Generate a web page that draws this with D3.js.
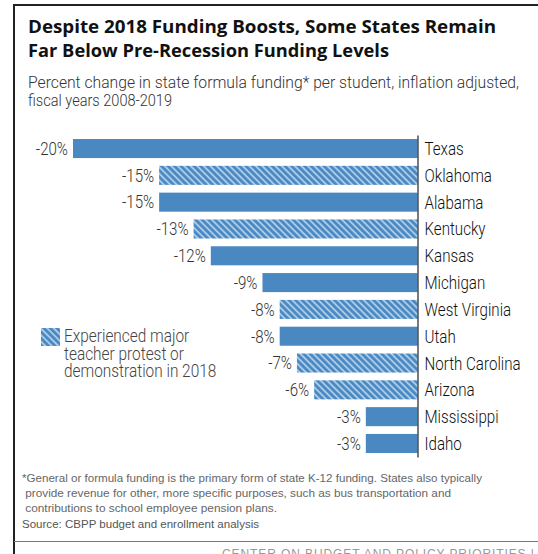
<!DOCTYPE html>
<html>
<head>
<meta charset="utf-8">
<script src="https://cdn.jsdelivr.net/npm/d3@7"></script>
<style>
  body { margin: 0; background: #fff; }
  svg { display: block; }
</style>
</head>
<body>
<svg width="538" height="554"></svg>
<script>
// data
var states = ["Texas", "Oklahoma", "Alabama", "Kentucky", "Kansas", "Michigan",
              "West Virginia", "Utah", "North Carolina", "Arizona", "Mississippi", "Idaho"];
var change = [-20, -15, -15, -13, -12, -9, -8, -8, -7, -6, -3, -3];
var protest = [false, true, false, true, false, false, true, false, true, true, false, false];

var titleLines = ["Despite 2018 Funding Boosts, Some States Remain",
                  "Far Below Pre-Recession Funding Levels"];
var subtitleLines = ["Percent change in state formula funding* per student, inflation adjusted,",
                     "fiscal years 2008-2019"];
var legendLines = ["Experienced major", "teacher protest or", "demonstration in 2018"];
var noteLines = ["*General or formula funding is the primary form of state K-12 funding. States also typically",
                 " provide revenue for other, more specific purposes, such as bus transportation and",
                 " contributions to school employee pension plans."];
var sourceText = "Source: CBPP budget and enrollment analysis";
var footerText = "CENTER ON BUDGET AND POLICY PRIORITIES | CBPP.ORG";

var data = states.map(function(s, i) {
    return {state: s, value: change[i], protest: protest[i]};
});

// no condensed font installed, so squeeze Roboto horizontally
var condFont = "Roboto, 'Liberation Sans', sans-serif";
function condense(sel, k) {
    sel.attr("lengthAdjust", "spacingAndGlyphs")
       .attr("textLength", function() { return this.getComputedTextLength() * k; });
}

var blue = "#4a88c2",
    lightBlue = "#a9cbe8";

var svg = d3.select("svg");

// hatch pattern
var defs = svg.append("defs");
var hatch = defs.append("pattern")
    .attr("id", "hatch")
    .attr("patternUnits", "userSpaceOnUse")
    .attr("width", 4.6)
    .attr("height", 4.6)
    .attr("patternTransform", "rotate(-45)");
hatch.append("rect")
    .attr("width", 4.6)
    .attr("height", 4.6)
    .attr("fill", lightBlue);
hatch.append("rect")
    .attr("width", 2.7)
    .attr("height", 4.6)
    .attr("fill", blue);

// frame
svg.append("line")
    .attr("x1", 14).attr("x2", 538)
    .attr("y1", 5).attr("y2", 5)
    .attr("stroke", "#222").attr("stroke-width", 2);
svg.append("line")
    .attr("x1", 14).attr("x2", 14)
    .attr("y1", 4).attr("y2", 554)
    .attr("stroke", "#222").attr("stroke-width", 2);
svg.append("line")
    .attr("x1", 14).attr("x2", 538)
    .attr("y1", 541.5).attr("y2", 541.5)
    .attr("stroke", "#777").attr("stroke-width", 1);

// title
var titleWidths = [468, 361];
svg.selectAll(".title")
    .data(titleLines)
    .join("text")
    .attr("class", "title")
    .attr("x", 28)
    .attr("y", (d, i) => 33 + i * 24)
    .attr("textLength", (d, i) => titleWidths[i])
    .attr("lengthAdjust", "spacingAndGlyphs")
    .style("font-family", "'Open Sans', sans-serif")
    .style("font-weight", 700)
    .style("font-size", "18px")
    .style("fill", "#111")
    .text(d => d);

// subtitle
var subWidths = [491, 144];
svg.selectAll(".subtitle")
    .data(subtitleLines)
    .join("text")
    .attr("class", "subtitle")
    .attr("x", 28)
    .attr("y", (d, i) => 88 + i * 17.5)
    .attr("textLength", (d, i) => subWidths[i])
    .attr("lengthAdjust", "spacingAndGlyphs")
    .style("font-family", condFont)
    .style("font-weight", 300)
    .style("font-size", "16.5px")
    .style("fill", "#333")
    .text(d => d);

// scales
var x = d3.scaleLinear()
    .domain([d3.min(change), 0])
    .range([73, 417.5]);

var y = d3.scaleBand()
    .domain(states)
    .range([135, 457])
    .paddingInner(0.29)
    .paddingOuter(0.15);

// bars
svg.selectAll(".bar")
    .data(data)
    .join("rect")
    .attr("class", "bar")
    .attr("x", d => x(d.value))
    .attr("y", d => y(d.state))
    .attr("width", d => x(0) - x(d.value))
    .attr("height", y.bandwidth())
    .attr("fill", d => d.protest ? "url(#hatch)" : blue);

// value labels
svg.selectAll(".value")
    .data(data)
    .join("text")
    .attr("class", "value")
    .attr("x", d => x(d.value) - 5)
    .attr("y", d => y(d.state) + y.bandwidth() / 2)
    .attr("dy", "0.36em")
    .attr("text-anchor", "end")
    .style("font-family", condFont)
    .style("font-weight", 300)
    .style("font-size", "17.5px")
    .style("fill", "#333")
    .text(d => d.value + "%")
    .call(condense, 0.86);

// state axis
var axis = svg.append("g")
    .attr("transform", "translate(" + x(0) + ",0)")
    .call(d3.axisRight(y).tickSize(0).tickSizeOuter(0).tickPadding(7));
axis.select(".domain")
    .attr("stroke", "#222")
    .attr("stroke-width", 1.2);
axis.selectAll("text")
    .attr("dy", "0.36em")
    .style("font-family", condFont)
    .style("font-weight", 300)
    .style("font-size", "18px")
    .style("fill", "#111")
    .call(condense, 0.84);

// legend
svg.append("rect")
    .attr("x", 41)
    .attr("y", 328)
    .attr("width", 19)
    .attr("height", 18)
    .attr("fill", "url(#hatch)");

svg.selectAll(".legend")
    .data(legendLines)
    .join("text")
    .attr("class", "legend")
    .attr("x", 64)
    .attr("y", (d, i) => 342 + i * 17.5)
    .style("font-family", condFont)
    .style("font-weight", 300)
    .style("font-size", "17.5px")
    .style("fill", "#444")
    .text(d => d)
    .call(condense, 0.88);

// notes
var noteWidths = [460, 425, 251];
svg.selectAll(".note")
    .data(noteLines)
    .join("text")
    .attr("class", "note")
    .attr("x", 22)
    .attr("y", (d, i) => 482 + i * 15)
    .attr("textLength", (d, i) => noteWidths[i] + (i > 0 ? 4 : 0))
    .attr("lengthAdjust", "spacingAndGlyphs")
    .attr("xml:space", "preserve")
    .style("white-space", "pre")
    .style("font-family", "'Liberation Sans', Arial, sans-serif")
    .style("font-size", "11.5px")
    .style("fill", "#666")
    .text(d => d);

svg.append("text")
    .attr("x", 22)
    .attr("y", 527.5)
    .attr("textLength", 237)
    .attr("lengthAdjust", "spacingAndGlyphs")
    .style("font-family", "'Liberation Sans', Arial, sans-serif")
    .style("font-size", "11.5px")
    .style("fill", "#555")
    .text(sourceText);

// footer (cut at the bottom edge)
svg.append("text")
    .attr("x", 222)
    .attr("y", 558)
    .style("font-family", "'Liberation Sans', Arial, sans-serif")
    .style("font-size", "12px")
    .style("letter-spacing", "0.9px")
    .style("fill", "#999")
    .text(footerText);
</script>
</body>
</html>
